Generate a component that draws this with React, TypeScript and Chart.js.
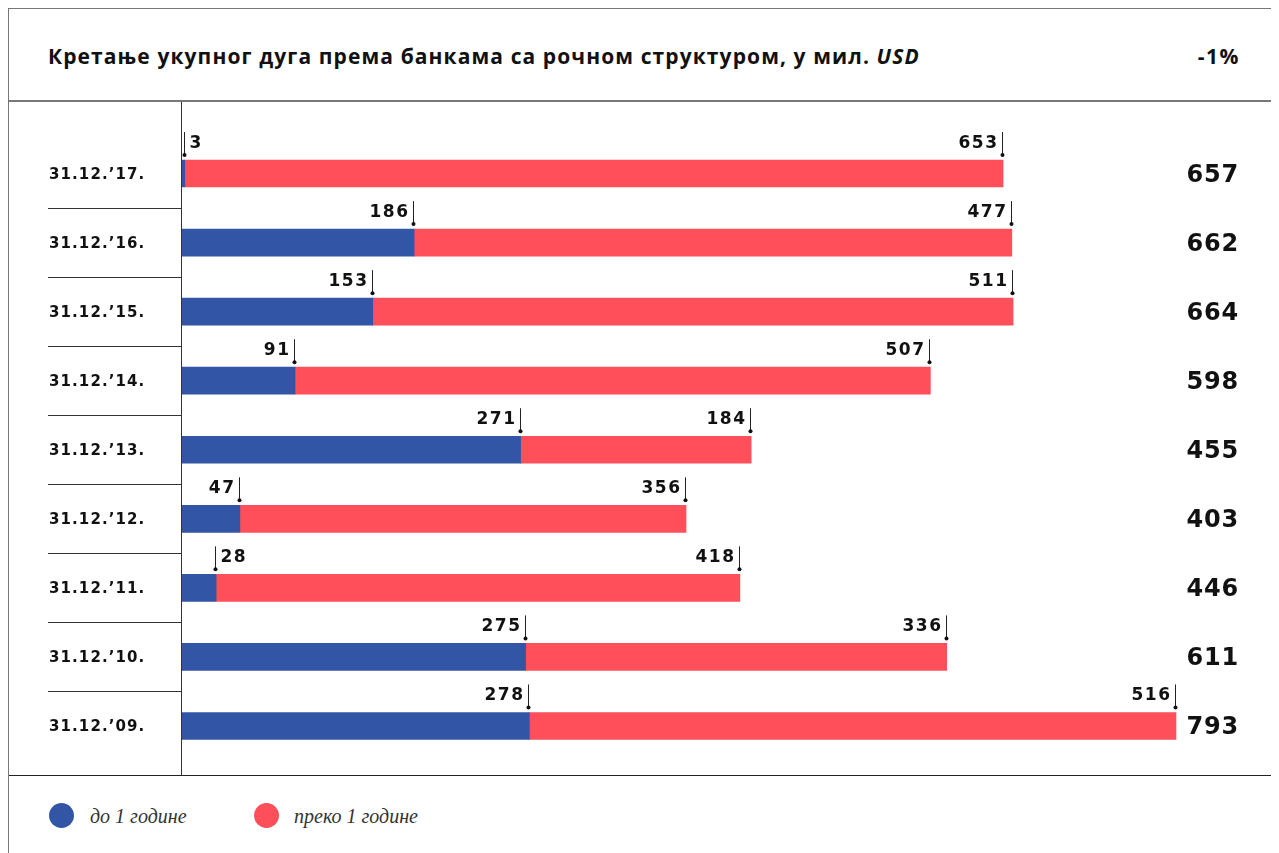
import React, { useEffect, useRef } from "react";
import { Chart, registerables } from "chart.js";

Chart.register(...registerables);

const categories = ["31.12.’17.", "31.12.’16.", "31.12.’15.", "31.12.’14.", "31.12.’13.", "31.12.’12.", "31.12.’11.", "31.12.’10.", "31.12.’09."];
const shortTerm = [3, 186, 153, 91, 271, 47, 28, 275, 278];
const longTerm = [653, 477, 511, 507, 184, 356, 418, 336, 516];
const totals = [657, 662, 664, 598, 455, 403, 446, 611, 793];
const seriesNames = ["до 1 године", "преко 1 године"];
const titleText = "Кретање укупног дуга према банкама са рочном структуром, у мил. ";
const titleUnit = "USD";
const changeText = "-1%";

const BLUE = "#3355a5";
const RED = "#ff4f5a";

const overlayPlugin = {
  id: "overlay",
  afterDatasetsDraw(chart: any) {
    const ctx = chart.ctx as CanvasRenderingContext2D;
    const area = chart.chartArea;
    const yScale = chart.scales.y;
    ctx.save();
    ctx.strokeStyle = "#333";
    ctx.lineWidth = 1;
    ctx.beginPath();
    ctx.moveTo(area.left + 0.5, 0);
    ctx.lineTo(area.left + 0.5, chart.height);
    ctx.stroke();

    categories.forEach((lab, i) => {
      const y = yScale.getPixelForValue(i);
      ctx.fillStyle = "#111";
      ctx.font = "bold 15px 'DejaVu Sans'";
      (ctx as any).letterSpacing = "1.1px";
      ctx.textAlign = "left";
      ctx.textBaseline = "middle";
      ctx.fillText(lab, 40, y + 1.5);
      if (i < categories.length - 1) {
        const yn = yScale.getPixelForValue(i + 1);
        const ym = Math.round((y + yn) / 2) + 0.5;
        ctx.strokeStyle = "#333";
        ctx.beginPath();
        ctx.moveTo(39, ym);
        ctx.lineTo(area.left, ym);
        ctx.stroke();
      }
      ctx.font = "bold 24px 'DejaVu Sans'";
      (ctx as any).letterSpacing = "0.8px";
      ctx.textAlign = "right";
      ctx.fillText(String(totals[i]), 1230, y + 2);
    });

    chart.data.datasets.forEach((ds: any, di: number) => {
      const meta = chart.getDatasetMeta(di);
      meta.data.forEach((el: any, i: number) => {
        const x = Math.round(el.x) - 0.5;
        const top = el.y - el.height / 2;
        ctx.strokeStyle = "#222";
        ctx.lineWidth = 1;
        ctx.beginPath();
        ctx.moveTo(x, top - 28);
        ctx.lineTo(x, top - 5);
        ctx.stroke();
        ctx.fillStyle = "#111";
        ctx.beginPath();
        ctx.arc(x, top - 5, 2, 0, Math.PI * 2);
        ctx.fill();
        ctx.font = "bold 17px 'DejaVu Sans'";
        (ctx as any).letterSpacing = "1.5px";
        ctx.textBaseline = "alphabetic";
        const txt = String(ds.data[i]);
        const w = ctx.measureText(txt).width;
        if (x - 6 - w < area.left + 12) {
          ctx.textAlign = "left";
          ctx.fillText(txt, x + 5, top - 12);
        } else {
          ctx.textAlign = "right";
          ctx.fillText(txt, x - 4, top - 12);
        }
      });
    });
    ctx.restore();
  },
};

export default function App() {
  const ref = useRef<HTMLCanvasElement>(null);
  useEffect(() => {
    document.body.style.overflow = "hidden";
    const chart = new Chart(ref.current!, {
      type: "bar",
      data: {
        labels: categories,
        datasets: [
          { label: seriesNames[0], data: shortTerm, backgroundColor: BLUE, barThickness: 27 },
          { label: seriesNames[1], data: longTerm, backgroundColor: RED, barThickness: 27 },
        ],
      },
      options: {
        indexAxis: "y",
        animation: false,
        responsive: false,
        maintainAspectRatio: false,
        layout: { padding: { left: 172, right: 92.5, top: 37, bottom: 14.5 } },
        scales: {
          x: { stacked: true, min: 0, max: 800, display: false },
          y: { stacked: true, display: false },
        },
        plugins: { legend: { display: false }, tooltip: { enabled: false } },
      },
      plugins: [overlayPlugin],
    });
    return () => chart.destroy();
  }, []);

  return (
    <div
      style={{
        position: "relative",
        width: 1270,
        height: 860,
        boxSizing: "border-box",
        borderLeft: "1.5px solid #777",
        borderRight: "1.5px solid #777",
        borderTop: "1.5px solid #777",
        background: "#fff",
      }}
    >
      <div
        style={{
          height: 91,
          borderBottom: "2px solid #777",
          position: "relative",
          fontFamily: "'Open Sans'",
          fontWeight: 700,
          fontSize: 21,
          color: "#111",
        }}
      >
        <div style={{ position: "absolute", left: 39, top: 33, whiteSpace: "nowrap", letterSpacing: "1.1px" }}>
          {titleText}
          <i>{titleUnit}</i>
        </div>
        <div style={{ position: "absolute", right: 37, top: 33, letterSpacing: "1.5px" }}>{changeText}</div>
      </div>
      <canvas ref={ref} width={1267} height={673} style={{ display: "block", width: 1267, height: 673 }} />
      <div style={{ borderTop: "1.5px solid #222", position: "relative", height: 80 }}>
        <div style={{ position: "absolute", left: 40, top: 27, width: 25, height: 25, borderRadius: "50%", background: BLUE }} />
        <div style={{ position: "absolute", left: 81, top: 28, fontFamily: "'Liberation Serif'", fontStyle: "italic", fontSize: 20, color: "#333", lineHeight: "25px" }}>
          {seriesNames[0]}
        </div>
        <div style={{ position: "absolute", left: 245, top: 27, width: 25, height: 25, borderRadius: "50%", background: RED }} />
        <div style={{ position: "absolute", left: 285, top: 28, fontFamily: "'Liberation Serif'", fontStyle: "italic", fontSize: 20, color: "#333", lineHeight: "25px" }}>
          {seriesNames[1]}
        </div>
      </div>
    </div>
  );
}
